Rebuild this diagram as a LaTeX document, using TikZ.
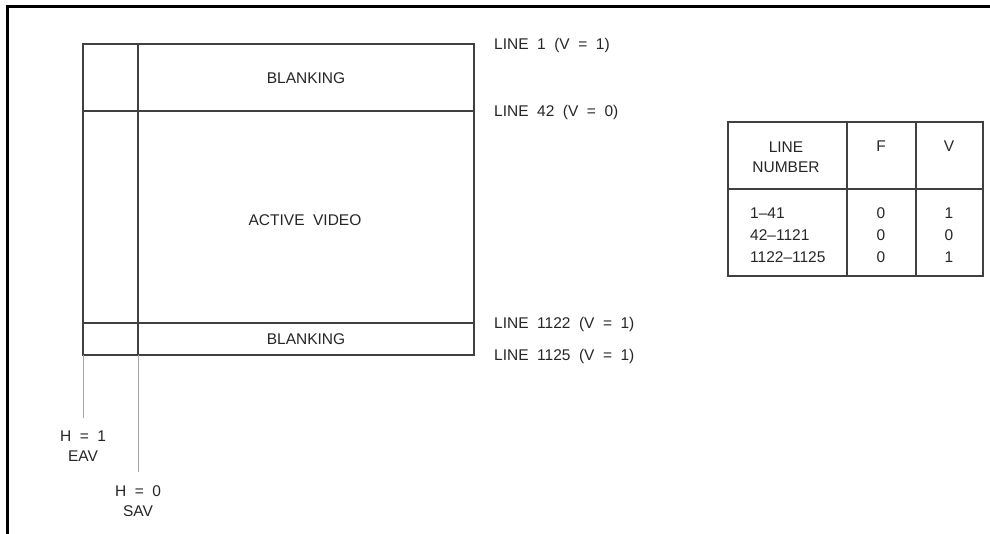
\documentclass[tikz,border=0pt]{standalone}
\usepackage{fontspec}
\setmainfont{Liberation Sans}
\usetikzlibrary{positioning}
\newcommand\lblfont{\fontsize{15.5}{20}\selectfont\spaceskip 0.55em\relax}

\begin{document}
\begin{tikzpicture}[x=1pt, y=-1pt,
    lbl/.style={font=\lblfont, text=black!85, inner sep=0pt},
    box/.style={draw=black!75, line width=1.4pt},
    lead/.style={draw=black!35, line width=1pt},
    frame/.style={draw=black, line width=3pt}]
    \useasboundingbox (0,0) rectangle (990,534);

    % outer frame
    \coordinate (f_tl) at (7,7);
    \coordinate (f_tr) at (990,7);
    \coordinate (f_bl) at (7,534);
    \draw[frame] (f_bl) -- (f_tl) -- (f_tr);

    % field box
    \coordinate (b_tl) at (83,44);
    \coordinate (b_br) at (474,355);
    \coordinate (s_top) at (138,44);
    \coordinate (s_bot) at (138,355);
    \coordinate (l42_w) at (83,111);
    \coordinate (l42_e) at (474,111);
    \coordinate (l1122_w) at (83,323);
    \coordinate (l1122_e) at (474,323);
    \draw[box] (b_tl) rectangle (b_br);
    \draw[box] (s_top) -- (s_bot);
    \draw[box] (l42_w) -- (l42_e);
    \draw[box] (l1122_w) -- (l1122_e);

    \node[lbl] (blank_top) at (306,78) {BLANKING};
    \node[lbl] (active) at (305,220) {ACTIVE VIDEO};
    \node[lbl] (blank_bot) at (306,339) {BLANKING};

    % line labels
    \node[lbl, anchor=west] (line_1) at (494,45) {LINE 1 (V = 1)};
    \node[lbl, anchor=west] (line_42) at (494,112) {LINE 42 (V = 0)};
    \node[lbl, anchor=west] (line_1122) at (494,324) {LINE 1122 (V = 1)};
    \node[lbl, anchor=west] (line_1125) at (494,356) {LINE 1125 (V = 1)};

    % EAV / SAV
    \coordinate (eav_top) at (83,355);
    \coordinate (eav_end) at (83,418);
    \coordinate (sav_end) at (138,472);
    \draw[lead] (eav_top) -- (eav_end);
    \draw[lead] (s_bot) -- (sav_end);
    \node[lbl, align=center, anchor=north] (eav) [below=13pt of eav_end] {H = 1\\EAV};
    \node[lbl, align=center, anchor=north] (sav) [below=13pt of sav_end] {H = 0\\SAV};

    % table
    \coordinate (t_tl) at (728,122);
    \coordinate (t_br) at (983,276);
    \coordinate (c1_top) at (847,122);
    \coordinate (c1_bot) at (847,276);
    \coordinate (c2_top) at (916,122);
    \coordinate (c2_bot) at (916,276);
    \coordinate (hd_w) at (728,189);
    \coordinate (hd_e) at (983,189);
    \draw[box] (t_tl) rectangle (t_br);
    \draw[box] (c1_top) -- (c1_bot);
    \draw[box] (c2_top) -- (c2_bot);
    \draw[box] (hd_w) -- (hd_e);

    \node[lbl, align=center] (hd_line) at (786,157) {LINE\\NUMBER};
    \node[lbl] (hd_f) at (881,146) {F};
    \node[lbl] (hd_v) at (949,146) {V};

    \node[lbl, anchor=west] (r1) at (750,213) {1--41};
    \node[lbl, anchor=west] (r2) at (750,235) {42--1121};
    \node[lbl, anchor=west] (r3) at (750,257) {1122--1125};
    \node[lbl] (r1_f) at (881,213) {0};
    \node[lbl] (r2_f) at (881,235) {0};
    \node[lbl] (r3_f) at (881,257) {0};
    \node[lbl] (r1_v) at (949,213) {1};
    \node[lbl] (r2_v) at (949,235) {0};
    \node[lbl] (r3_v) at (949,257) {1};
\end{tikzpicture}
\end{document}
